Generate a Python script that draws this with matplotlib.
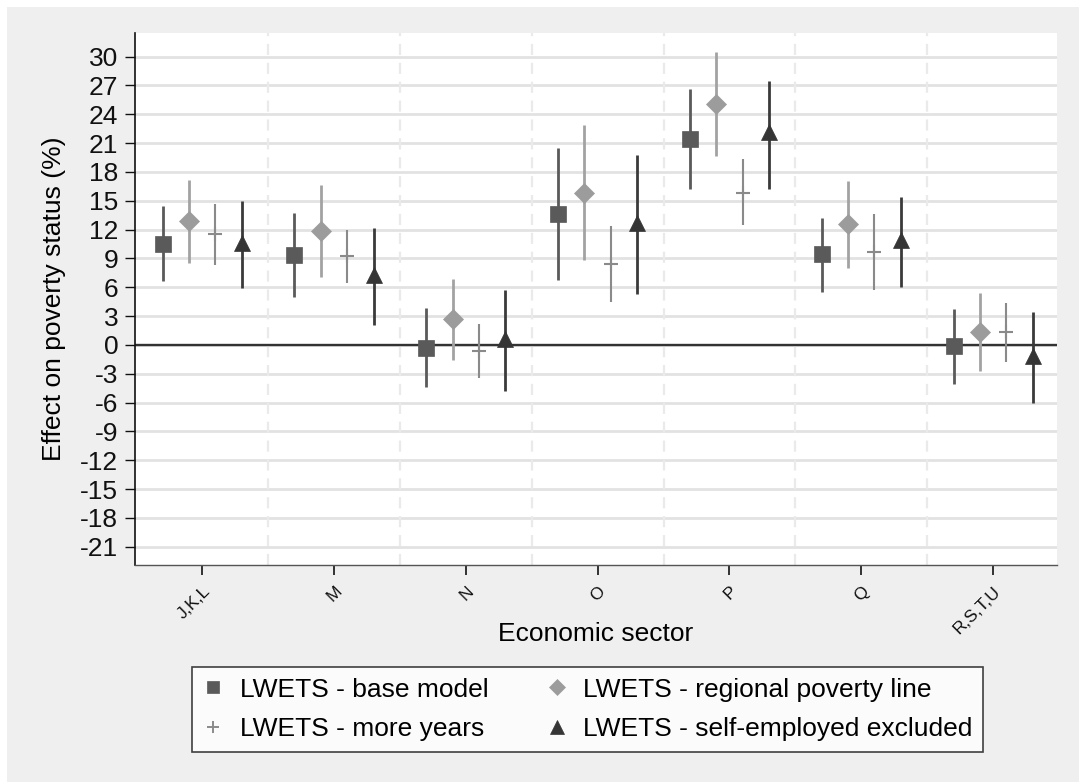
import matplotlib
matplotlib.use('Agg')
import matplotlib.pyplot as plt
from matplotlib.patches import Rectangle
from matplotlib.lines import Line2D
import numpy as np

plt.rcParams['font.family'] = ['Liberation Sans', 'DejaVu Sans']

# Economic sectors on the x axis
sectors = ['J,K,L', 'M', 'N', 'O', 'P', 'Q', 'R,S,T,U']

# Point estimates and 95% CI bounds (%)
base = [10.5, 9.4, -0.35, 13.6, 21.4, 9.45, -0.1]
base_lo = [6.65, 5.0, -4.4, 6.75, 16.2, 5.55, -4.05]
base_hi = [14.4, 13.7, 3.8, 20.5, 26.65, 13.25, 3.75]

regional = [12.9, 11.85, 2.65, 15.8, 25.1, 12.6, 1.3]
regional_lo = [8.55, 7.1, -1.55, 8.85, 19.7, 8.0, -2.75]
regional_hi = [17.2, 16.6, 6.9, 22.85, 30.45, 17.1, 5.45]

more_years = [11.55, 9.2, -0.6, 8.45, 15.85, 9.7, 1.3]
more_years_lo = [8.35, 6.4, -3.45, 4.45, 12.45, 5.75, -1.75]
more_years_hi = [14.7, 12.0, 2.2, 12.4, 19.3, 13.6, 4.35]

self_emp = [10.65, 7.3, 0.6, 12.7, 22.1, 10.9, -1.2]
self_emp_lo = [5.9, 2.1, -4.8, 5.25, 16.25, 6.05, -6.05]
self_emp_hi = [15.0, 12.2, 5.7, 19.8, 27.5, 15.4, 3.4]

labels = ['LWETS - base model', 'LWETS - regional poverty line',
          'LWETS - more years', 'LWETS - self-employed excluded']

yticks = np.arange(-21, 31, 3)

fig = plt.figure(figsize=(10.79, 7.82), dpi=100)
fig.patch.set_facecolor('white')
fig.patches.append(Rectangle((7 / 1079, 0), 1, 1 - 7 / 782, transform=fig.transFigure,
                             facecolor='#efefef', edgecolor='none', zorder=-10))

ax = fig.add_axes([135 / 1079, 1 - 565 / 782, 922 / 1079, 532 / 782])
ax.set_facecolor('white')

xs = np.arange(1, len(sectors) + 1)

# (values, lo, hi, offset, marker, size, colour, line colour, line width)
series = [
    (base, base_lo, base_hi, -0.3, 's', 11, '#5a5a5a', '#5a5a5a', 2.0),
    (regional, regional_lo, regional_hi, -0.1, 'D', 10, '#9c9c9c', '#a2a2a2', 2.0),
    (more_years, more_years_lo, more_years_hi, 0.1, '+', 10, '#8a8a8a', '#8a8a8a', 1.5),
    (self_emp, self_emp_lo, self_emp_hi, 0.3, '^', 12, '#353535', '#3a3a3a', 2.0),
]

handles = []
for (vals, lo, hi, off, mk, ms, col, lcol, lw), lab in zip(series, labels):
    vals = np.array(vals)
    yerr = [vals - np.array(lo), np.array(hi) - vals]
    ax.errorbar(xs + off, vals, yerr=yerr, fmt=mk, ms=ms, color=col, mfc=col, mec=col,
                mew=1.5 if mk == '+' else 0.5, ecolor=lcol, elinewidth=lw, capsize=0, zorder=3)
    handles.append(Line2D([], [], linestyle='none', marker=mk, ms=ms * 0.85, color=col,
                          mfc=col, mec=col, mew=1.4 if mk == '+' else 0.5, label=lab))

# Grid: solid horizontal, dashed vertical between sectors
for y in yticks:
    ax.axhline(y, color='#e2e2e2', lw=2.0, zorder=1)
for x in xs[:-1] + 0.5:
    ax.axvline(x, color='#eaeaea', lw=1.6, linestyle=(0, (5, 3.5)), zorder=1)
ax.axhline(0, color='#333333', lw=1.7, zorder=2)

ax.set_xlim(0.49, 7.485)
ax.set_ylim(-22.9, 32.45)
ax.set_yticks(yticks)
ax.set_yticklabels([str(v) for v in yticks], fontsize=19)
ax.set_xticks(xs)
ax.set_xticklabels(sectors, fontsize=12.5, rotation=45, ha='right', va='top',
                   rotation_mode='anchor')
ax.tick_params(axis='y', length=7, width=1, pad=5, colors='#111111')
ax.tick_params(axis='x', length=7.5, width=1.2, pad=6, colors='#111111')

for s in ['top', 'right']:
    ax.spines[s].set_visible(False)
ax.spines['left'].set_color('#111111')
ax.spines['left'].set_linewidth(1.2)
ax.spines['bottom'].set_color('#555555')
ax.spines['bottom'].set_linewidth(1.0)

ax.set_ylabel('Effect on poverty status (%)', fontsize=19)
ax.yaxis.set_label_coords(-0.075, 0.5)
ax.set_xlabel('Economic sector', fontsize=19)
ax.xaxis.set_label_coords(0.5, -0.108)

order = [handles[0], handles[2], handles[1], handles[3]]
leg = fig.legend(handles=order, loc='upper left', ncol=2,
                 bbox_to_anchor=(192 / 1079, 1 - 667 / 782), fontsize=19,
                 frameon=True, fancybox=False, edgecolor='#111111', facecolor='white',
                 handlelength=0.8, handletextpad=0.6, columnspacing=2.2,
                 labelspacing=0.6, borderpad=0.4, borderaxespad=0)
leg.get_frame().set_linewidth(1.2)

fig.savefig('out.png', dpi=100, facecolor=fig.get_facecolor())
